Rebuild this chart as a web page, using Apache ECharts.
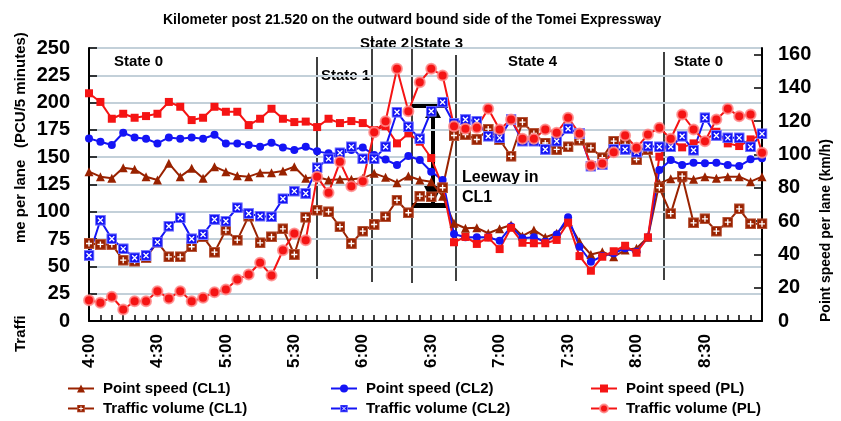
<!DOCTYPE html>
<html>
<head>
<meta charset="utf-8">
<script src="https://cdn.jsdelivr.net/npm/echarts@6/dist/echarts.min.js"></script>
<style>
  html, body { margin: 0; padding: 0; background: #fff; }
  #chart { width: 841px; height: 421px; }
</style>
</head>
<body>
<div id="chart"></div>
<script>
// time of day, 5 minute steps
const times = [
  '4:00','4:05','4:10','4:15','4:20','4:25','4:30','4:35','4:40','4:45','4:50','4:55',
  '5:00','5:05','5:10','5:15','5:20','5:25','5:30','5:35','5:40','5:45','5:50','5:55',
  '6:00','6:05','6:10','6:15','6:20','6:25','6:30','6:35','6:40','6:45','6:50','6:55',
  '7:00','7:05','7:10','7:15','7:20','7:25','7:30','7:35','7:40','7:45','7:50','7:55',
  '8:00','8:05','8:10','8:15','8:20','8:25','8:30','8:35','8:40','8:45','8:50','8:55'
];

// point speed (km/h), right axis
const speedCL1 = [
  89.7, 86.7, 85.7, 92.1, 91.1, 86.7, 84.7, 94.7, 86.7, 91.7, 85.7, 92.7,
  89.7, 87.3, 86.7, 89.1, 89.1, 90.1, 92.7, 85.7, 86.5, 84.7, 85.1, 85.1,
  85.7, 88.7, 86.3, 83.1, 87.1, 84.7, 83.7, 75.0, 58.7, 55.7, 56.0, 52.7,
  55.4, 57.7, 51.1, 54.7, 50.3, 52.7, 59.7, 47.6, 39.9, 41.6, 38.6, 42.6,
  43.7, 50.3, 82.7, 85.5, 86.0, 85.1, 86.7, 85.7, 86.7, 86.7, 83.7, 86.7
];
const speedCL2 = [
  109.7, 107.7, 105.7, 113.1, 110.3, 109.5, 106.7, 110.3, 109.5, 110.3, 109.5, 111.9,
  106.7, 106.7, 105.7, 104.7, 107.1, 104.3, 102.7, 104.7, 101.9, 100.7, 100.3, 102.7,
  104.3, 99.7, 97.0, 93.7, 99.1, 96.7, 89.7, 84.7, 52.3, 50.3, 50.3, 50.3,
  48.2, 56.7, 49.7, 50.3, 47.6, 52.0, 62.3, 44.6, 35.6, 39.0, 40.7, 43.7,
  41.6, 50.3, 90.7, 96.7, 93.7, 95.1, 94.7, 95.1, 93.7, 93.1, 97.1, 97.7
];
const speedPL = [
  136.8, 131.6, 121.5, 124.5, 122.1, 123.1, 124.5, 131.6, 128.7, 120.7, 122.1, 128.7,
  125.7, 125.7, 117.7, 121.5, 127.5, 121.5, 119.5, 119.8, 116.5, 121.5, 118.9, 120.1,
  118.9, 114.7, 117.0, 106.7, 112.7, 107.7, 97.9, 80.7, 47.3, 50.5, 46.3, 50.1,
  43.2, 56.0, 47.0, 46.7, 46.7, 48.7, 59.1, 39.0, 30.2, 38.6, 41.9, 45.2,
  41.0, 50.3, 98.7, 109.1, 104.3, 106.7, 108.3, 113.7, 106.7, 105.1, 109.1, 112.0
];

// traffic volume per lane (PCU/5 minutes), left axis
const volCL1 = [
  71.0, 70.1, 70.1, 55.7, 54.8, 57.9, 72.2, 58.8, 58.8, 68.0, 77.0, 63.0,
  83.2, 74.0, 96.0, 71.6, 77.1, 84.4, 60.9, 95.0, 101.5, 100.0, 86.3, 71.0,
  82.3, 88.4, 95.4, 110.6, 99.1, 114.3, 113.7, 122.0, 169.9, 170.8, 166.2, 175.7,
  166.0, 150.9, 182.1, 171.7, 163.0, 157.1, 159.5, 165.6, 158.6, 149.5, 164.7, 161.6,
  147.9, 157.0, 122.0, 98.3, 132.6, 89.9, 93.6, 82.3, 90.5, 102.7, 89.0, 89.0
];
const volCL2 = [
  60.0, 92.3, 75.3, 66.1, 57.9, 60.0, 72.2, 86.8, 94.5, 75.3, 79.2, 93.0,
  91.4, 103.7, 98.4, 96.0, 95.4, 111.9, 118.9, 116.8, 140.3, 148.5, 154.0, 159.5,
  148.5, 148.5, 159.5, 191.2, 177.8, 166.9, 192.1, 200.4, 180.9, 184.5, 183.0, 169.2,
  167.7, 184.5, 164.7, 164.7, 157.1, 164.7, 176.0, 171.7, 141.8, 143.3, 157.1, 157.1,
  154.6, 160.1, 159.5, 159.5, 169.2, 156.4, 186.1, 169.9, 167.7, 167.7, 159.5, 171.4
];
const volPL = [
  19.1, 16.7, 22.2, 10.5, 18.1, 18.1, 27.3, 20.6, 27.3, 18.1, 21.2, 26.4,
  28.8, 38.0, 42.6, 53.3, 41.7, 64.8, 80.1, 74.0, 132.0, 117.4, 145.8, 123.5,
  128.0, 172.9, 183.0, 231.0, 192.1, 218.7, 231.0, 224.8, 178.4, 176.0, 176.9, 194.3,
  175.4, 184.5, 166.9, 166.9, 175.4, 172.4, 186.1, 171.7, 142.4, 144.2, 154.6, 169.9,
  158.6, 170.8, 176.9, 166.9, 189.1, 175.4, 164.7, 184.5, 194.3, 187.6, 189.1, 154.0
];

const volTicks = [0, 25, 50, 75, 100, 125, 150, 175, 200, 225, 250];
const speedTicks = [0, 20, 40, 60, 80, 100, 120, 140, 160];

const BROWN = '#992200';
const BLUE = '#1414f5';
const RED = '#f51414';
const FONT = '"Liberation Sans", Arial, sans-serif';

// square markers with a white cross drawn inside
function boxSymbol(fill, edge, mark) {
  const svg = '<svg xmlns="http://www.w3.org/2000/svg" width="20" height="20" viewBox="0 0 20 20">' +
    '<rect x="1" y="1" width="18" height="18" fill="' + fill + '" stroke="' + edge + '" stroke-width="2"/>' +
    '<path d="' + mark + '" stroke="#fff" stroke-width="2.4" fill="none"/></svg>';
  return 'image://data:image/svg+xml;charset=utf-8,' + encodeURIComponent(svg);
}
const plusBox = boxSymbol(BROWN, '#b8563a', 'M10 4.5V15.5M4.5 10H15.5');
const crossBox = boxSymbol(BLUE, '#7a7aff', 'M5.5 5.5L14.5 14.5M14.5 5.5L5.5 14.5');

function mkSeries(name, data, axis, color, symbol, size, itemStyle) {
  return {
    name: name,
    type: 'line',
    yAxisIndex: axis,
    data: data,
    symbol: symbol,
    symbolSize: size,
    showAllSymbol: true,
    lineStyle: { color: color, width: 2 },
    itemStyle: Object.assign({ color: color }, itemStyle || {}),
    emphasis: { disabled: true },
    animation: false
  };
}

const chart = echarts.init(document.getElementById('chart'));

const legendBase = {
  orient: 'vertical',
  top: 381,
  padding: 0,
  itemGap: 5,
  itemWidth: 26,
  itemHeight: 10,
  textStyle: { fontSize: 15, fontWeight: 'bold', color: '#000', fontFamily: FONT, padding: [0, 0, 0, 4] }
};

function label(text, x, y, size) {
  return {
    type: 'text', left: x, top: y,
    style: { text: text, font: 'bold ' + (size || 15) + 'px ' + FONT, fill: '#000' }
  };
}
function vtext(text, x, y, size) {
  return {
    type: 'text', x: x, y: y, rotation: Math.PI / 2,
    style: { text: text, font: 'bold ' + size + 'px ' + FONT, fill: '#000', align: 'left', verticalAlign: 'middle' }
  };
}
function vline(x, y1, y2) {
  return { type: 'line', shape: { x1: x, y1: y1, x2: x, y2: y2 }, style: { stroke: '#000', lineWidth: 1.5 } };
}

chart.setOption({
  animation: false,
  textStyle: { fontFamily: FONT },
  title: {
    text: 'Kilometer post 21.520 on the outward bound side of the Tomei Expressway',
    left: 158, top: 8,
    textStyle: { fontSize: 14, fontWeight: 'bold', color: '#000', fontFamily: FONT }
  },
  grid: { left: 89, right: 79, top: 48, bottom: 100 },
  legend: [
    Object.assign({ left: 67, data: ['Point speed (CL1)', 'Traffic volume (CL1)'] }, legendBase),
    Object.assign({ left: 330, data: ['Point speed (CL2)', 'Traffic volume (CL2)'] }, legendBase),
    Object.assign({ left: 590, data: ['Point speed (PL)', 'Traffic volume (PL)'] }, legendBase)
  ],
  xAxis: {
    type: 'category',
    data: times,
    boundaryGap: false,
    axisLine: { lineStyle: { color: '#000', width: 2 } },
    axisTick: { inside: true, length: 6, interval: 0, lineStyle: { color: '#000', width: 1.5 } },
    axisLabel: { interval: 5, rotate: 90, margin: 13, fontSize: 17, fontWeight: 'bold', color: '#000' },
    splitLine: { show: false }
  },
  yAxis: [
    {
      type: 'value', min: 0, max: 250, interval: 25,
      axisLine: { show: true, lineStyle: { color: '#000', width: 2 } },
      axisTick: { show: true, inside: true, length: 8, lineStyle: { color: '#000', width: 1.5 } },
      axisLabel: { margin: 19, fontSize: 20, fontWeight: 'bold', color: '#000', customValues: volTicks },
      splitLine: { show: true, lineStyle: { color: '#c3d0d9', width: 2 } }
    },
    {
      type: 'value', min: 0, max: 164, position: 'right',
      axisLine: { show: true, lineStyle: { color: '#000', width: 2 } },
      axisTick: { show: true, inside: true, length: 8, customValues: speedTicks, lineStyle: { color: '#000', width: 1.5 } },
      axisLabel: { margin: 16, fontSize: 20, fontWeight: 'bold', color: '#000', customValues: speedTicks },
      splitLine: { show: false }
    }
  ],
  series: [
    mkSeries('Point speed (CL1)', speedCL1, 1, BROWN, 'triangle', 9),
    mkSeries('Point speed (CL2)', speedCL2, 1, BLUE, 'circle', 8),
    mkSeries('Point speed (PL)', speedPL, 1, RED, 'rect', 8),
    mkSeries('Traffic volume (CL1)', volCL1, 0, BROWN, plusBox, 11),
    mkSeries('Traffic volume (CL2)', volCL2, 0, BLUE, crossBox, 11),
    mkSeries('Traffic volume (PL)', volPL, 0, RED, 'circle', 10,
      { borderColor: 'rgba(255,140,140,0.85)', borderWidth: 2 })
  ],
  graphic: [
    vline(317, 57, 279), vline(372, 36, 282), vline(412, 36, 283), vline(456, 55, 281), vline(664, 52, 280),
    label('State 0', 114, 54), label('State 1', 321, 68), label('State 2', 360, 36),
    label('State 3', 414, 36), label('State 4', 508, 54), label('State 0', 674, 54),
    label('Leeway in', 462, 170, 16), label('CL1', 462, 190, 16),
    // leeway marker
    { type: 'rect', shape: { x: 412, y: 103, width: 36, height: 5 }, style: { fill: '#000' } },
    { type: 'rect', shape: { x: 412, y: 203, width: 36, height: 5 }, style: { fill: '#000' } },
    { type: 'rect', shape: { x: 431, y: 108, width: 4, height: 95 }, style: { fill: '#000' } },
    { type: 'polygon', shape: { points: [[433, 103], [425, 118], [441, 118]] }, style: { fill: '#000' } },
    { type: 'polygon', shape: { points: [[433, 204], [424, 186], [442, 186]] }, style: { fill: '#000' } },
    // axis names
    vtext('Traffi', 21, 352, 15),
    vtext('me per lane', 21, 243, 15),
    vtext('(PCU/5 minutes)', 21, 148, 15),
    vtext('Point speed per lane (km/h)', 826, 322, 14)
  ]
});
</script>
</body>
</html>
